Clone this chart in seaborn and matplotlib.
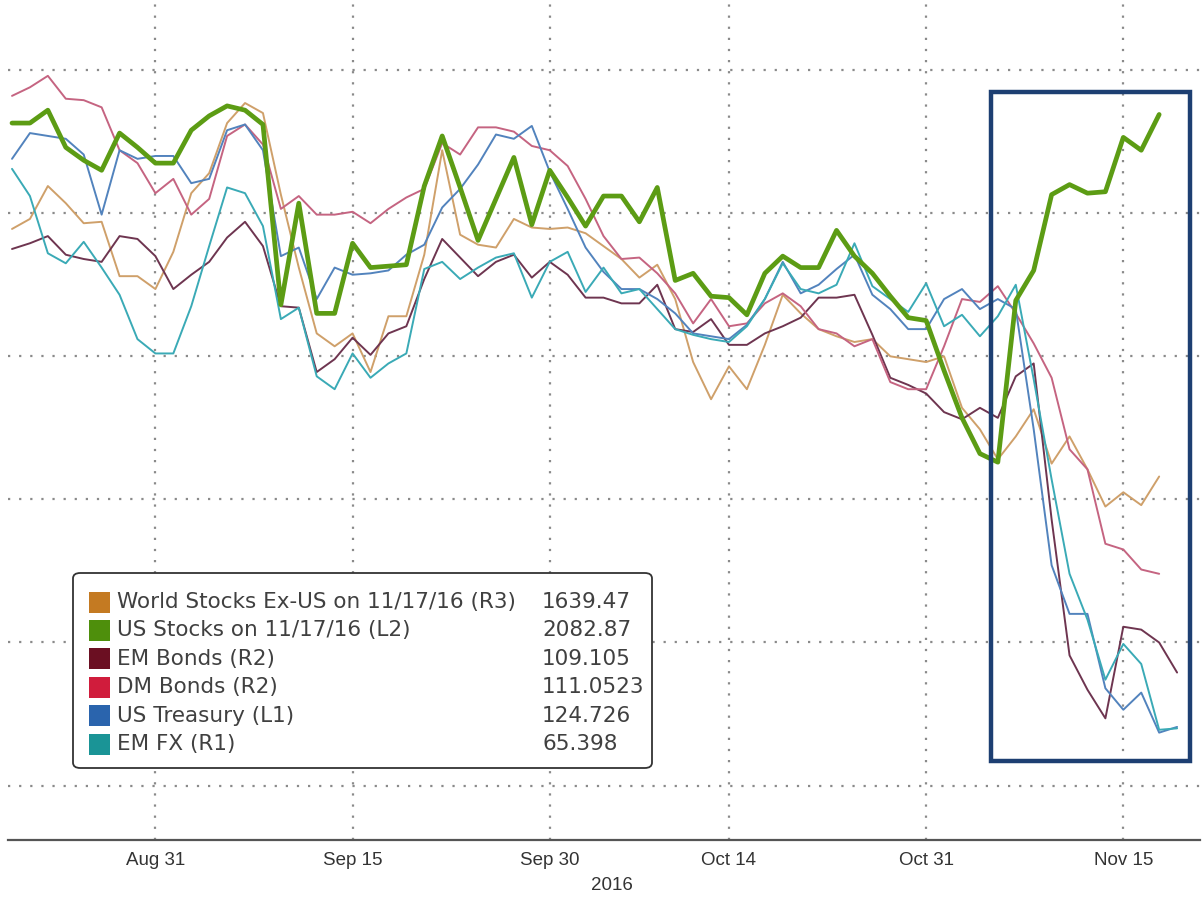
import numpy as np
import pandas as pd
import matplotlib
matplotlib.use("Agg")
import matplotlib.pyplot as plt
from matplotlib.patches import Rectangle, FancyBboxPatch
import seaborn as sns

# x = business-day number, 0 = Aug 31 2016 (first point Aug 19)
tick_pos = [0, 11, 22, 32, 43, 54]
tick_labels = ['Aug 31', 'Sep 15', 'Sep 30', 'Oct 14', 'Oct 31', 'Nov 15']
minor_pos = [-7, 6, 16, 27, 38, 49]

# levels (relative scale, grid lines every 100)
us_stocks = [463, 463, 472, 446, 437, 430, 456, 446,
             435, 435, 458, 468, 475, 472, 462,
             336, 407, 330, 330, 379, 362, 363, 364,
             419, 454, 418, 381, 410, 439, 392, 430,
             411, 391, 412, 412, 394, 418, 353, 358,
             342, 341, 329, 358, 370, 362, 362, 388,
             370, 358, 342, 327, 325, 290, 257, 232,
             226, 339, 360, 413, 420, 414, 415, 453, 444, 469]
dm_bonds = [482, 488, 496, 480, 479, 474, 444, 435,
            414, 424, 399, 410, 454, 462, 448,
            403, 412, 399, 399, 401, 393, 403, 411,
            417, 449, 441, 460, 460, 457, 447, 444,
            433, 410, 384, 368, 369, 358, 344, 323,
            340, 321, 323, 337, 344, 335, 319, 316,
            307, 312, 282, 277, 277, 307, 340, 338,
            349, 330, 309, 285, 235, 221, 169, 165, 151, 148]
world_stocks = [389, 396, 419, 407, 393, 394, 356, 356,
                347, 373, 414, 428, 463, 477, 470,
                413, 362, 316, 307, 316, 289, 328, 328,
                371, 444, 385, 378, 376, 396, 390, 389,
                390, 386, 377, 368, 355, 364, 340, 296,
                270, 293, 277, 308, 343, 330, 319, 314,
                310, 312, 300, 298, 296, 300, 264, 249,
                228, 244, 263, 225, 244, 221, 195, 205, 196, 216]
em_bonds = [375, 379, 384, 371, 368, 366, 384, 382,
            370, 347, 357, 366, 383, 394, 377,
            335, 334, 289, 298, 313, 301, 316, 321,
            354, 382, 369, 356, 366, 371, 355, 366,
            357, 341, 341, 337, 337, 350, 319, 317,
            326, 308, 308, 316, 321, 327, 341, 341,
            343, 315, 285, 280, 274, 261, 256, 264,
            257, 286, 295, 186, 91, 67, 47, 111, 109, 100, 79]
us_treasury = [438, 456, 454, 452, 441, 399, 444, 438,
               440, 440, 421, 424, 458, 462, 444,
               370, 376, 340, 362, 357, 358, 360, 371,
               378, 404, 417, 434, 455, 452, 461, 429,
               403, 376, 359, 347, 347, 340, 330, 316,
               314, 312, 322, 340, 366, 344, 350, 361,
               371, 343, 333, 319, 319, 340, 347, 333,
               340, 333, 249, 154, 120, 120, 68, 53, 65, 37, 41]
em_fx = [431, 412, 372, 365, 380, 362, 343, 312,
         302, 302, 335, 377, 418, 414, 391,
         326, 334, 286, 277, 302, 285, 295, 302,
         361, 366, 354, 362, 369, 372, 341, 366,
         373, 345, 362, 344, 347, 333, 319, 315,
         312, 310, 321, 340, 365, 347, 344, 350,
         379, 349, 340, 331, 351, 321, 329, 314,
         328, 350, 284, 214, 148, 116, 74, 99, 85, 39, 40]

legend_names = ['World Stocks Ex-US on 11/17/16 (R3)', 'US Stocks on 11/17/16 (L2)',
                'EM Bonds (R2)', 'DM Bonds (R2)', 'US Treasury (L1)', 'EM FX (R1)']
legend_values = ['1639.47', '2082.87', '109.105', '111.0523', '124.726', '65.398']
legend_colors = ['#c47a22', '#4e8f0c', '#6b0f22', '#d01c3c', '#2a64ad', '#1a9496']

thin = {
    'World Stocks': world_stocks,
    'EM Bonds': em_bonds,
    'DM Bonds': dm_bonds,
    'US Treasury': us_treasury,
    'EM FX': em_fx,
}
line_colors = {
    'World Stocks': '#cfa06a',
    'EM Bonds': '#6e3550',
    'DM Bonds': '#c56481',
    'US Treasury': '#5283bd',
    'EM FX': '#3aaab6',
}

frames = []
for name, vals in thin.items():
    frames.append(pd.DataFrame({'day': np.arange(-8, -8 + len(vals)),
                                'level': vals, 'series': name}))
df = pd.concat(frames, ignore_index=True)
df_us = pd.DataFrame({'day': np.arange(-8, -8 + len(us_stocks)), 'level': us_stocks})

sns.set_style('white')
plt.rcParams['font.family'] = ['DejaVu Sans']

fig = plt.figure(figsize=(12.04, 9), dpi=100)
ax = fig.add_axes([0.007, 0.0667, 0.99, 0.9333])

# dotted grid
for y in range(0, 501, 100):
    ax.axhline(y, color='#8a8a8a', lw=1.6, ls=(0, (1, 4)), zorder=0)
for x in tick_pos:
    ax.axvline(x, color='#8a8a8a', lw=1.6, ls=(0, (1, 4)), zorder=0)

sns.lineplot(data=df, x='day', y='level', hue='series', palette=line_colors,
             linewidth=1.4, legend=False, ax=ax, zorder=2)
sns.lineplot(data=df_us, x='day', y='level', color='#5c9c14', linewidth=3.4,
             ax=ax, zorder=3)

# highlight box around the post-election move
ax.add_patch(Rectangle((46.6, 17.5), 11.1, 467, fill=False,
                       edgecolor='#1d3f72', lw=3.2, zorder=4))

ax.set_xlim(-8.2, 58.3)
ax.set_ylim(-38, 549)
ax.set_xlabel('')
ax.set_ylabel('')
ax.set_yticks([])
ax.set_xticks(tick_pos)
ax.set_xticklabels(tick_labels, fontsize=13.5, color='#333333',
                   family=['Liberation Sans', 'DejaVu Sans'])
ax.set_xticks(minor_pos, minor=True)
ax.tick_params(axis='x', which='major', direction='inout', length=10, width=1,
               color='#555555', pad=4)
ax.tick_params(axis='x', which='minor', direction='out', length=6, width=1,
               color='#555555')
for s in ['top', 'right', 'left']:
    ax.spines[s].set_visible(False)
ax.spines['bottom'].set_color('#555555')
ax.spines['bottom'].set_linewidth(1.6)

fig.text(612 / 1204, 1 - 886 / 900, '2016', ha='center', va='center',
         fontsize=13.5, color='#333333', family=['Liberation Sans', 'DejaVu Sans'])

# legend box
W, H = 1204.0, 900.0
box = FancyBboxPatch((73 / W, 1 - 768 / H), (652 - 73) / W, (768 - 573) / H,
                     boxstyle='round,pad=0,rounding_size=0.006',
                     transform=fig.transFigure, facecolor='white',
                     edgecolor='#333333', lw=1.3, zorder=10)
fig.patches.append(box)
for i, (name, val, col) in enumerate(zip(legend_names, legend_values, legend_colors)):
    yc = 602 + i * 28.4
    fig.patches.append(Rectangle((89 / W, 1 - (yc + 10.5) / H), 21 / W, 21 / H,
                                 transform=fig.transFigure, facecolor=col,
                                 edgecolor='none', zorder=11))
    fig.text(117 / W, 1 - yc / H, name, ha='left', va='center', fontsize=15.5,
             color='#404040', zorder=12)
    fig.text(542 / W, 1 - yc / H, val, ha='left', va='center', fontsize=15.5,
             color='#404040', zorder=12)

fig.savefig('out.png', dpi=100, facecolor='white')
